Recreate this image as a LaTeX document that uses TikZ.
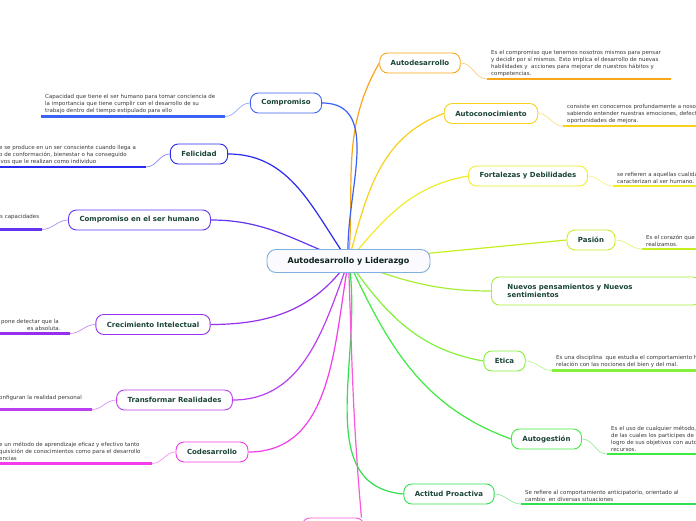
\documentclass[tikz,border=0pt]{standalone}
\usepackage{fontspec}
\setmainfont{DejaVu Sans}
\usetikzlibrary{backgrounds}
\definecolor{labelgreen}{HTML}{1A4438}
\definecolor{notegray}{HTML}{3A3A3A}
\definecolor{rootblue}{HTML}{7FB0DF}
\definecolor{cautodes}{HTML}{FAA61A}
\definecolor{cautocon}{HTML}{F8D01E}
\definecolor{cfortal}{HTML}{F0EC2A}
\definecolor{cpasion}{HTML}{C5EF1F}
\definecolor{cnuevos}{HTML}{A7EE36}
\definecolor{cetica}{HTML}{84F03A}
\definecolor{cautoges}{HTML}{3FEA3F}
\definecolor{cactitud}{HTML}{30E050}
\definecolor{cbottom}{HTML}{F85ADA}
\definecolor{ccodes}{HTML}{F23DEA}
\definecolor{ctransf}{HTML}{BB3FF0}
\definecolor{ccrecim}{HTML}{9530EE}
\definecolor{ccomphum}{HTML}{6236F0}
\definecolor{cfelic}{HTML}{2A2AF0}
\definecolor{ccomp}{HTML}{3A62F5}

\begin{document}
\begin{tikzpicture}[x=1pt, y=1pt,
  every node/.style={font=\fontsize{7}{8.5}\selectfont},
  topic/.style={draw=#1, line width=0.9pt, rounded corners=8pt, fill=white,
    minimum height=20pt, inner xsep=11pt, text=labelgreen,
    font=\fontsize{7}{8.5}\selectfont\bfseries},
  note/.style={inner xsep=4pt, inner ysep=2.5pt, align=left, text=notegray,
    font=\fontsize{5.5}{7}\selectfont},
  branch/.style={draw=#1, line width=1.2pt},
  uline/.style={draw=#1, line width=2.2pt},
  nline/.style={draw=#1!55, line width=0.7pt}
]
\useasboundingbox (0,0) rectangle (696,-520);

% Central topic
\node[draw=rootblue, line width=0.9pt, rounded corners=9pt, fill=blue!2,
  minimum height=23pt, minimum width=163pt, text=labelgreen!50!black,
  font=\fontsize{8}{10}\selectfont\bfseries] (root) at (348.5,-261) {Autodesarrollo y Liderazgo};

% Right branches
\node[topic=cautodes] (autodes) at (420,-63) {Autodesarrollo};
\node[topic=cautocon] (autocon) at (491,-113.5) {Autoconocimiento};
\node[topic=cfortal] (fortal) at (528,-176) {Fortalezas y Debilidades};
\node[topic=cpasion] (pasion) at (591,-240) {Pasión};
\node[topic=cnuevos, anchor=west, minimum height=28pt, inner xsep=16pt,
  text width=177pt, align=left] (nuevos) at (491,-291) {Nuevos pensamientos y Nuevos\\ sentimientos};
\node[topic=cetica] (etica) at (504.5,-361) {Etica};
\node[topic=cautoges] (autoges) at (546.5,-439) {Autogestión};
\node[topic=cactitud] (actitud) at (449,-494) {Actitud Proactiva};
\node[topic=cbottom, minimum width=62pt] (bottom) at (333,-528) {};

% Left branches
\node[topic=ccomp] (comp) at (286,-103) {Compromiso};
\node[topic=cfelic] (felic) at (199,-154) {Felicidad};
\node[topic=ccomphum] (comphum) at (139.5,-220) {Compromiso en el ser humano};
\node[topic=ccrecim] (crecim) at (153,-324.5) {Crecimiento Intelectual};
\node[topic=ctransf] (transf) at (174.5,-400) {Transformar Realidades};
\node[topic=ccodes] (codes) at (212,-452) {Codesarrollo};

% Notes on the right
\node[note, anchor=south west] (autodes-n) at (487,-79) {Es el compromiso que tenemos nosotros mismos para pensar\\ y decidir por sí mismos. Esto implica el desarrollo de nuevas\\ habilidades y \ acciones para mejorar de nuestros hábitos y\\ competencias.};
\node[note, anchor=south west] (autocon-n) at (563,-126) {consiste en conocernos profundamente a nosotros\\ sabiendo entender nuestras emociones, defectos\\ oportunidades de mejora.};
\node[note, anchor=south west] (fortal-n) at (613,-186) {se refieren a aquellas cualidades que\\ caracterizan al ser humano.};
\node[note, anchor=south west] (pasion-n) at (642,-249) {Es el corazón que ponemos\\ realizamos.};
\node[note, anchor=south west] (etica-n) at (552,-370.5) {Es una disciplina \ que estudia el comportamiento humano en\\ relación con las nociones del bien y del mal.};
\node[note, anchor=south west] (autoges-n) at (607,-454) {Es el uso de cualquier método,\\ de las cuales los participes de un\\ logro de sus objetivos con autonomía\\ recursos.};
\node[note, anchor=south west] (actitud-n) at (521,-504) {Se refiere al comportamiento anticipatorio, orientado al\\ cambio \ en diversas situaciones};

% Notes on the left
\node[note, anchor=south west] (comp-n) at (41,-116.5) {Capacidad que tiene el ser humano para tomar conciencia de\\ la importancia que tiene cumplir con el desarrollo de su\\ trabajo dentro del tiempo estipulado para ello};
\node[note, anchor=south west] (felic-n) at (-5,-167) {e se produce en un ser consciente cuando llega a\\ o de conformación, bienestar o ha conseguido\\ ivos que le realizan como individuo};
\node[note, anchor=south west, inner ysep=9.5pt] (comphum-n) at (-4,-229.5) {s capacidades};
\node[note, anchor=south west] (crecim-n) at (-3,-333.5) {pone detectar que la\\\kern26pt es absoluta.};
\node[note, anchor=south west, inner ysep=9pt] (transf-n) at (-5,-409.5) {onfiguran la realidad personal};
\node[note, anchor=south west] (codes-n) at (-5,-463.5) {e un método de aprendizaje eficaz y efectivo tanto\\ quisición de conocimientos como para el desarrollo\\ encias};

% Underlines
\draw[uline=cautodes] (autodes-n.south west) -- ++(184,0);
\draw[uline=cautocon] (autocon-n.south west) -- ++(150,0);
\draw[uline=cfortal] (fortal-n.south west) -- ++(100,0);
\draw[uline=cpasion] (pasion-n.south west) -- ++(80,0);
\draw[uline=cetica] (etica-n.south west) -- ++(160,0);
\draw[uline=cautoges] (autoges-n.south west) -- ++(100,0);
\draw[uline=cactitud] (actitud-n.south west) -- ++(190,0);
\draw[uline=ccomp] (comp-n.south west) -- ++(184,0) coordinate (comp-u);
\draw[uline=cfelic] (felic-n.south west) -- ++(151,0) coordinate (felic-u);
\draw[uline=ccomphum] (comphum-n.south west) -- ++(46,0) coordinate (comphum-u);
\draw[uline=ccrecim] (crecim-n.south west) -- ++(73,0) coordinate (crecim-u);
\draw[uline=ctransf] (transf-n.south west) -- ++(97,0) coordinate (transf-u);
\draw[uline=ccodes] (codes-n.south west) -- ++(157,0) coordinate (codes-u);

% Topic to note
\draw[nline=cautodes] (autodes.east) to[out=0,in=180] (autodes-n.south west);
\draw[nline=cautocon] (autocon.east) to[out=0,in=180] (autocon-n.south west);
\draw[nline=cfortal] (fortal.east) to[out=0,in=180] (fortal-n.south west);
\draw[nline=cpasion] (pasion.east) to[out=0,in=180] (pasion-n.south west);
\draw[nline=cetica] (etica.east) to[out=0,in=180] (etica-n.south west);
\draw[nline=cautoges] (autoges.east) to[out=0,in=180] (autoges-n.south west);
\draw[nline=cactitud] (actitud.east) to[out=0,in=180] (actitud-n.south west);
\draw[nline=ccomp] (comp.west) to[out=180,in=0] (comp-u);
\draw[nline=cfelic] (felic.west) to[out=180,in=0] (felic-u);
\draw[nline=ccomphum] (comphum.west) to[out=180,in=0] (comphum-u);
\draw[nline=ccrecim] (crecim.west) to[out=180,in=0] (crecim-u);
\draw[nline=ctransf] (transf.west) to[out=180,in=0] (transf-u);
\draw[nline=ccodes] (codes.west) to[out=180,in=0] (codes-u);

% Branches from the centre
\begin{scope}[on background layer]
\fill[white] (0,0) rectangle (696,-520);
\draw[branch=cautodes] (root.center) to[out=85,in=240] (autodes.west);
\draw[branch=cautocon] (root.center) to[out=75,in=200] (autocon.west);
\draw[branch=cfortal] (root.center) to[out=50,in=190] (fortal.west);
\draw[branch=cpasion] (root.center) -- (pasion.west);
\draw[branch=cnuevos] (root.center) to[out=-20,in=180] (nuevos.west);
\draw[branch=cetica] (root.center) to[out=-55,in=170] (etica.west);
\draw[branch=cautoges] (root.center) to[out=-65,in=160] (autoges.west);
\draw[branch=cactitud] (root.center) to[out=-80,in=175] (actitud.west);
\draw[branch=cbottom] (root.center) to[out=-88,in=95] ([xshift=-3pt]bottom.north east);
\draw[branch=ccomp] (comp.east) to[out=0,in=95] (root.center);
\draw[branch=cfelic] (felic.east) to[out=0,in=125] (root.center);
\draw[branch=ccomphum] (comphum.east) to[out=0,in=160] (root.center);
\draw[branch=ccrecim] (crecim.east) to[out=0,in=235] (root.center);
\draw[branch=ctransf] (transf.east) to[out=0,in=250] (root.center);
\draw[branch=ccodes] (codes.east) to[out=0,in=260] (root.center);
\end{scope}
\end{tikzpicture}
\end{document}
